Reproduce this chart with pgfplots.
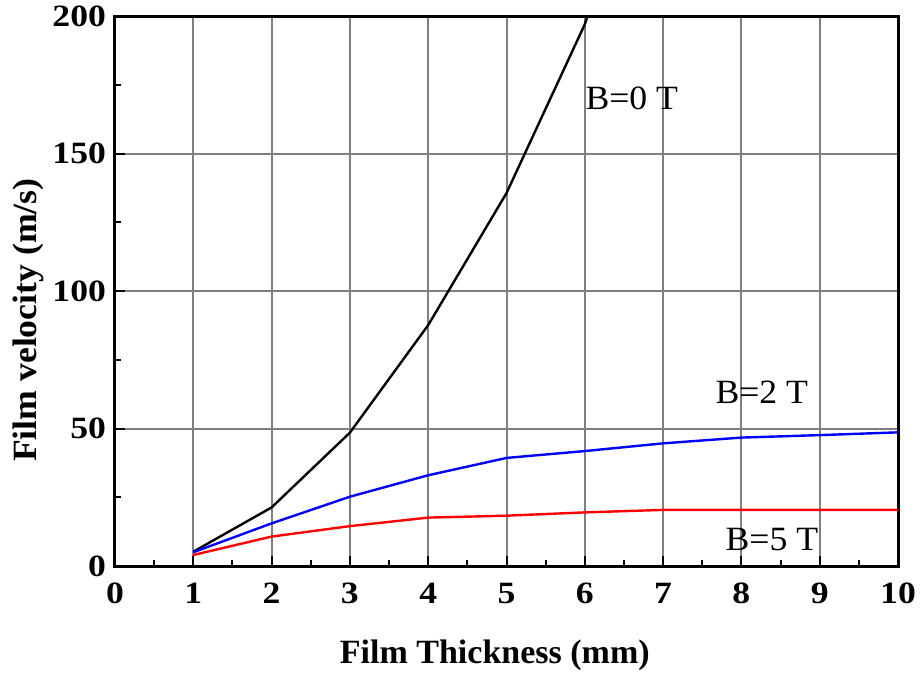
\documentclass[border=0pt]{standalone}
\usepackage{fontspec}
\setmainfont{Liberation Serif}
\newfontfamily\tickfont[FakeStretch=1.15]{Liberation Serif}
\newfontfamily\labfont[FakeStretch=1.05]{Liberation Serif}
\usepackage{pgfplots}
\pgfplotsset{compat=1.18}
\begin{document}
\begin{tikzpicture}
\useasboundingbox (-57.5pt,-55.5pt) rectangle (402.5pt,283pt);
\begin{axis}[
  scale only axis,
  width=391.5pt, height=275pt,
  xmin=0, xmax=10, ymin=0, ymax=200,
  xtick={0,1,...,10}, ytick={0,50,100,150,200},
  minor x tick num=1, minor y tick num=1,
  tick pos=left, tick align=inside,
  major tick length=5pt, minor tick length=3pt,
  every tick/.style={black, line width=1pt},
  grid=major,
  major grid style={gray, line width=1pt},
  axis line style={black, line width=1.5pt},
  /pgf/number format/assume math mode=true,
  ticklabel style={font=\tickfont\fontsize{15.5}{18}\selectfont\bfseries},
  xticklabel style={yshift=-5pt},
  yticklabel style={xshift=-1pt},
  xlabel={Film Thickness (mm)},
  ylabel={Film velocity (m/s)},
  xlabel style={font=\fontsize{17}{20}\selectfont\bfseries, at={(axis description cs:0.485,0)}, anchor=center, yshift=-44.5pt},
  ylabel style={font=\labfont\fontsize{17}{20}\selectfont\bfseries, at={(axis description cs:0,0.447)}, anchor=center, yshift=43.5pt},
  clip=true,
]
\addplot[black, line width=1.2pt] coordinates {(1,5.2) (2,21.3) (3,48.5) (4,87.6) (5,135.6) (6,197) (7,280)};
\addplot[blue, line width=1.2pt] coordinates {(1,5) (2,15.5) (3,25.2) (4,33) (5,39.3) (6,41.8) (7,44.6) (8,46.7) (9,47.6) (10,48.6)};
\addplot[red, line width=1.2pt] coordinates {(1,4) (2,10.7) (3,14.5) (4,17.6) (5,18.3) (6,19.5) (7,20.4) (8,20.4) (9,20.4) (10,20.4)};
\node[font=\labfont\fontsize{17}{20}\selectfont, anchor=center] at (axis cs:6.6,170) {B=0 T};
\node[font=\labfont\fontsize{17}{20}\selectfont, anchor=center] at (axis cs:8.26,63) {B=2 T};
\node[font=\labfont\fontsize{17}{20}\selectfont, anchor=center] at (axis cs:8.39,9.5) {B=5 T};
\end{axis}
\end{tikzpicture}
\end{document}
